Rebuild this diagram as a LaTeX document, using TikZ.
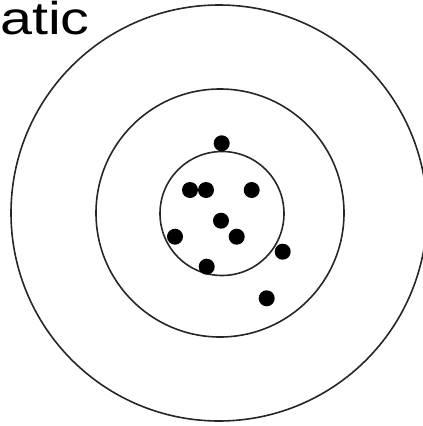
\documentclass[tikz,border=0pt]{standalone}
\usepackage{fontspec}
\setmainfont{Liberation Sans}
\usetikzlibrary{positioning}
\tikzset{
  ring/.style={draw=black!85, line width=1.6pt, circle, inner sep=0pt, minimum size=#1},
  shot/.style={fill=black, circle, inner sep=0pt, minimum size=16pt},
  heading/.style={font=\fontsize{46}{50}\selectfont, inner sep=0pt, anchor=base west, xscale=1.25, transform shape},
}
\begin{document}
\begin{tikzpicture}[x=1pt, y=-1pt]
\useasboundingbox (0,0) rectangle (423,426);
% target rings
\node[ring=416pt] (outer) at (219,213) {};
\node[ring=248pt] (middle) at (220,213) {};
\node[ring=124pt] (inner) at (222,213.5) {};
\node[heading] (title) at (0,34) {atic};
% hits
\node[shot] (s1) at (221.7,143.3) {};
\node[shot] (s2) at (190,190) {};
\node[shot] (s3) at (206,190) {};
\node[shot] (s4) at (251.7,190) {};
\node[shot] (s5) at (221,220.7) {};
\node[shot] (s6) at (236.7,236.7) {};
\node[shot] (s7) at (175,236.7) {};
\node[shot] (s8) at (206.7,266.7) {};
\node[shot] (s9) at (282.7,251.7) {};
\node[shot] (s10) at (266.7,298.3) {};
\end{tikzpicture}
\end{document}
